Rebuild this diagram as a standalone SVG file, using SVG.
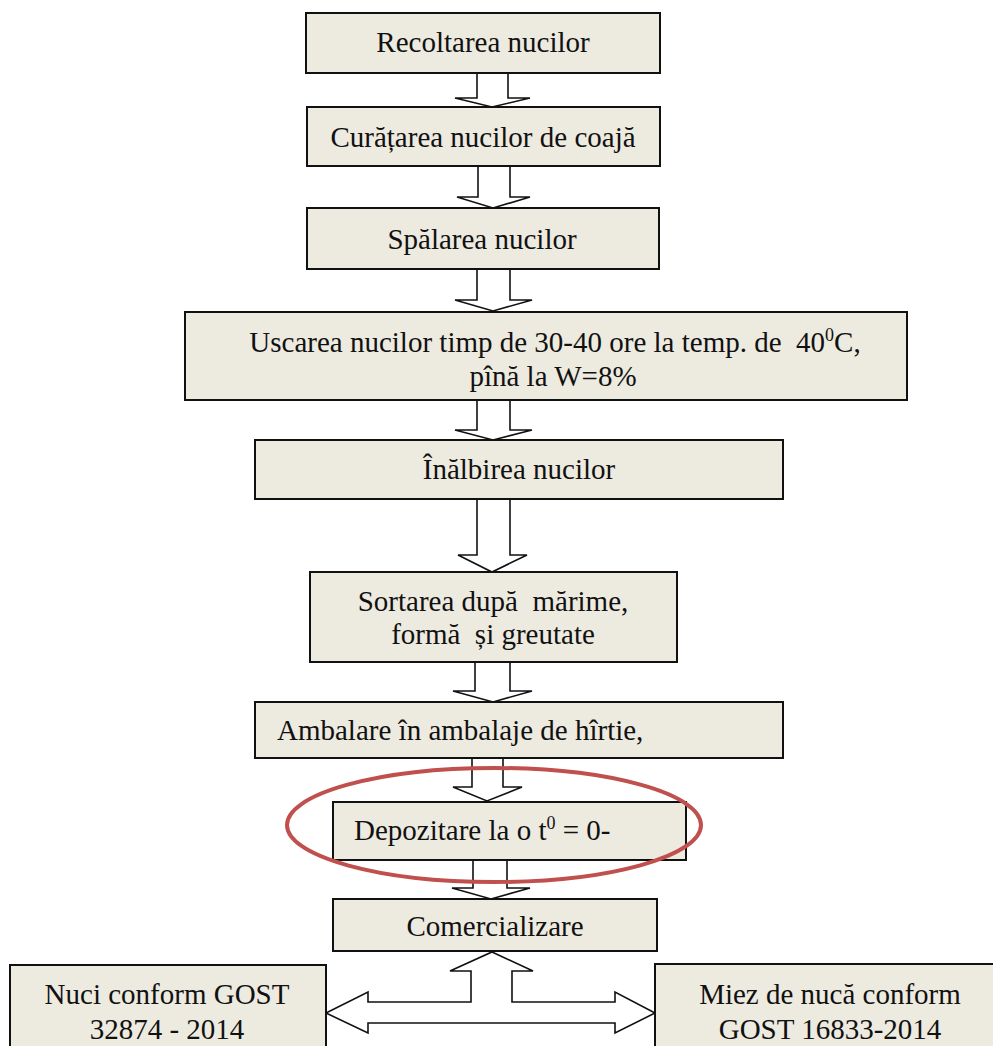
<svg xmlns="http://www.w3.org/2000/svg" width="993" height="1046" viewBox="0 0 993 1046">
<style>
.box{fill:#EDEAE0;stroke:#111;stroke-width:2}
.arr{fill:#fff;stroke:#111;stroke-width:1.6;stroke-linejoin:miter}
.t{font-size:29px;fill:#111}
.m{text-anchor:middle}
.sup{font-size:18px}
</style>
<rect width="993" height="1046" fill="#fff"/>
<g id="connectors">
<polygon class="arr" points="477,73 508,73 508,98 530,98 492,107 455,98 477,98"/>
<polygon class="arr" points="478,166 510,166 510,197 530,197 493,208 457,197 478,197"/>
<polygon class="arr" points="477,269 510,269 510,300 532,300 493,311 455,300 477,300"/>
<polygon class="arr" points="477,400 510,400 510,430 532,430 493,440 455,430 477,430"/>
<polygon class="arr" points="477,499 510,499 510,555 527,555 492,572 458,555 477,555"/>
<polygon class="arr" points="475,662 510,662 510,691 532,691 493,702 453,691 475,691"/>
<polygon class="arr" points="472,758 503,758 503,787 522,787 487,801 453,787 472,787"/>
<polygon class="arr" points="473,860 507,860 507,888 530,888 491,899 452,888 473,888"/>
<polygon class="arr" points="492,952 533,971 512,971 512,1002 615,1002 615,992 655,1013 615,1033 615,1023 368,1023 368,1033 326,1013 368,992 368,1002 471,1002 471,971 450,971"/>
</g>
<g font-family="'Liberation Serif', 'Times New Roman', serif">
<g id="n1"><rect class="box" x="306" y="13" width="354" height="60"/><text class="t m" x="483" y="52">Recoltarea nucilor</text></g>
<g id="n2"><rect class="box" x="307" y="107" width="353" height="59"/><text class="t m" x="483" y="147">Curățarea nucilor de coajă</text></g>
<g id="n3"><rect class="box" x="307" y="208" width="352" height="61"/><text class="t m" x="482" y="249">Spălarea nucilor</text></g>
<g id="n4"><rect class="box" x="185" y="312" width="722" height="88"/><text class="t m" x="555" y="352" xml:space="preserve">Uscarea nucilor timp de 30-40 ore la temp. de  40<tspan class="sup" dy="-11">0</tspan><tspan dy="11">C,</tspan></text><text class="t m" x="553" y="386">pînă la W=8%</text></g>
<g id="n5"><rect class="box" x="255" y="440" width="528" height="59"/><text class="t m" x="519" y="479">Înălbirea nucilor</text></g>
<g id="n6"><rect class="box" x="310" y="572" width="367" height="90"/><text class="t m" x="493" y="611" xml:space="preserve">Sortarea după  mărime,</text><text class="t m" x="493" y="644" xml:space="preserve">formă  și greutate</text></g>
<g id="n7"><rect class="box" x="255" y="702" width="528" height="56"/><text class="t" x="277" y="740">Ambalare în ambalaje de hîrtie,</text></g>
<g id="n8"><rect class="box" x="333" y="802" width="353" height="58"/><text class="t" x="354" y="840">Depozitare la o t<tspan class="sup" dy="-11">0</tspan><tspan dy="11"> = 0-</tspan></text></g>
<g id="highlight"><ellipse cx="494" cy="825" rx="207" ry="57" fill="none" stroke="#C0504D" stroke-width="4"/></g>
<g id="n9"><rect class="box" x="333" y="899" width="324" height="52"/><text class="t m" x="495" y="936">Comercializare</text></g>
<g id="n10"><rect class="box" x="10" y="965" width="316" height="100"/><text class="t m" x="167" y="1004">Nuci conform GOST</text><text class="t m" x="167" y="1039">32874 - 2014</text></g>
<g id="n11"><rect class="box" x="655" y="964" width="360" height="100"/><text class="t m" x="830" y="1004">Miez de nucă conform</text><text class="t m" x="830" y="1039">GOST 16833-2014</text></g>
</g>
</svg>
